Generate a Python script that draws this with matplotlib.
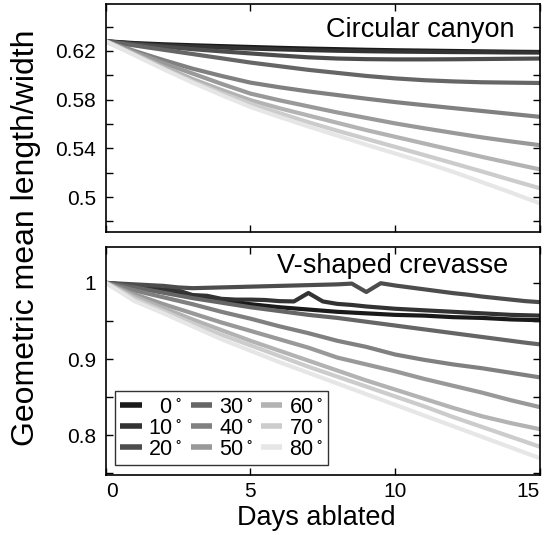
import matplotlib
matplotlib.use("Agg")
import matplotlib.pyplot as plt
import numpy as np

plt.rcParams['font.family'] = ['Liberation Sans', 'DejaVu Sans']
plt.rcParams['mathtext.fontset'] = 'custom'
plt.rcParams['mathtext.rm'] = 'Liberation Sans'

# ---------------- data ----------------
angles = [0, 10, 20, 30, 40, 50, 60, 70, 80]
angle_labels = ['  $\\mathregular{0^\\circ}$', '$\\mathregular{10^\\circ}$', '$\\mathregular{20^\\circ}$',
                '$\\mathregular{30^\\circ}$', '$\\mathregular{40^\\circ}$', '$\\mathregular{50^\\circ}$',
                '$\\mathregular{60^\\circ}$', '$\\mathregular{70^\\circ}$', '$\\mathregular{80^\\circ}$']

days_top = list(range(0, 16))
canyon_0 = [.628, .6265, .6255, .6247, .624, .6233, .6226, .622, .6215, .621, .6206, .6203, .620, .6197, .6194, .6192]
canyon_10 = [.628, .626, .6247, .6237, .6228, .622, .6213, .6207, .6202, .6198, .6195, .6193, .6191, .619, .6188, .6187]
canyon_20 = [.628, .6255, .6235, .6215, .6197, .618, .6163, .6148, .6138, .6133, .6131, .6131, .6132, .6134, .6136, .6138]
canyon_30 = [.628, .6245, .621, .6175, .614, .6105, .6075, .6045, .602, .5995, .5975, .596, .595, .5943, .594, .5937]
canyon_40 = [.628, .620, .6125, .6055, .5995, .594, .5902, .5868, .5838, .5808, .578, .5755, .5731, .5707, .5683, .5659]
canyon_50 = [.628, .619, .610, .6015, .593, .585, .5795, .5745, .5695, .565, .5605, .5565, .5527, .549, .5457, .5426]
canyon_60 = [.628, .6175, .607, .597, .588, .5796, .573, .567, .561, .555, .5495, .544, .5385, .533, .5278, .5227]
canyon_70 = [.628, .617, .6055, .595, .5855, .5768, .569, .5615, .5545, .5478, .5412, .5345, .5278, .521, .514, .5072]
canyon_80 = [.628, .6165, .605, .594, .5838, .574, .5658, .558, .5505, .543, .5358, .5285, .5207, .5122, .5037, .4948]

days_bot = [d / 2 for d in range(0, 31)]
crev_0 = [1.0, .998, .995, .991, .988, .985, .982, .9795, .977, .9745, .972, .970, .968, .9665, .965, .9635,
          .962, .961, .960, .959, .958, .9575, .957, .956, .955, .9545, .954, .953, .952, .9515, .951]
crev_10 = [1.0, .998, .996, .994, .991, .990, .984, .983, .979, .978, .978, .9775, .976, .9756, .9867, .9756,
           .9724, .971, .969, .9675, .966, .965, .964, .963, .962, .961, .960, .959, .958, .9575, .957]
crev_20 = [1.0, .999, .998, .997, .996, .994, .993, .9935, .994, .9945, .995, .9955, .996, .9965, .997, .9975,
           .998, .999, .988, .9995, .9965, .994, .9915, .989, .9865, .9845, .982, .980, .978, .976, .9747]
crev_30 = [1.0, .997, .994, .9905, .987, .9835, .980, .977, .974, .971, .968, .9655, .963, .9605, .958, .956,
           .954, .9515, .949, .9465, .944, .9415, .939, .9365, .934, .9315, .929, .9265, .924, .9215, .9193]
crev_40 = [1.0, .995, .990, .9855, .981, .9765, .972, .967, .962, .9575, .953, .948, .943, .9385, .934, .929,
           .924, .920, .916, .911, .906, .9025, .899, .896, .893, .8905, .888, .885, .882, .879, .876]
crev_50 = [1.0, .9925, .985, .9785, .972, .966, .960, .954, .948, .9425, .937, .9315, .926, .9205, .915, .9085,
           .902, .8975, .893, .8885, .884, .879, .874, .8695, .865, .8605, .856, .851, .846, .8415, .837]
crev_60 = [1.0, .991, .982, .9745, .967, .9595, .952, .945, .938, .931, .924, .9175, .911, .9045, .898, .8915,
           .885, .8785, .872, .866, .860, .854, .848, .842, .836, .8305, .825, .8205, .816, .812, .808]
crev_70 = [1.0, .9895, .979, .971, .963, .955, .947, .9395, .932, .925, .918, .911, .904, .897, .890, .8835,
           .877, .8705, .864, .8575, .851, .8445, .838, .831, .824, .8175, .811, .8045, .798, .7915, .785]
crev_80 = [1.0, .988, .976, .968, .960, .9515, .943, .9345, .926, .9185, .911, .9035, .896, .889, .882, .875,
           .868, .861, .854, .847, .840, .833, .826, .819, .812, .805, .798, .791, .784, .777, .770]

canyon = [canyon_0, canyon_10, canyon_20, canyon_30, canyon_40, canyon_50, canyon_60, canyon_70, canyon_80]
crevasse = [crev_0, crev_10, crev_20, crev_30, crev_40, crev_50, crev_60, crev_70, crev_80]
gray_levels = [0.1, 0.2, 0.3, 0.4, 0.5, 0.6, 0.7, 0.8, 0.9]

top_yticks = [0.5, 0.54, 0.58, 0.62]
top_yminor = [0.48, 0.52, 0.56, 0.60, 0.64]
bot_yticks = [0.8, 0.9, 1.0]
bot_yminor = [0.75, 0.85, 0.95]
xticks = [0, 5, 10, 15]

# ---------------- figure ----------------
W, H = 551, 535
fig = plt.figure(figsize=(W / 100, H / 100), dpi=100)

def rect(l, r, t, b):
    return [l / W, 1 - b / H, (r - l) / W, (b - t) / H]

ax1 = fig.add_axes(rect(105.7, 540, 4, 232))
ax2 = fig.add_axes(rect(105.7, 540, 247, 475))

for i, a in enumerate(angles):
    c = str(gray_levels[i])
    ax1.plot(days_top, canyon[i], color=c, lw=3, solid_capstyle='butt')
    ax2.plot(days_bot, crevasse[i], color=c, lw=3, solid_capstyle='butt', label=angle_labels[i])

ax1.set_ylim(0.4713, 0.6586)
ax2.set_ylim(0.748, 1.047)
for ax in (ax1, ax2):
    ax.set_xlim(0, 15)
    ax.set_xticks(xticks)
    ax.tick_params(direction='in', length=5, width=1, top=True, right=True,
                   labelsize=15, pad=7, colors='black')
    ax.tick_params(which='minor', direction='in', length=5, width=1, left=True, right=True)
    for s in ax.spines.values():
        s.set_linewidth(1.2)
ax1.set_yticks(top_yticks)
ax1.set_yticklabels(['0.5', '0.54', '0.58', '0.62'])
ax1.set_yticks(top_yminor, minor=True)
ax1.tick_params(labelbottom=False)
ax2.set_yticks(bot_yticks)
ax2.set_yticklabels(['0.8', '0.9', '1'])
ax2.set_yticks(bot_yminor, minor=True)
ax2.tick_params(axis='x', pad=5)
xl = ax2.get_xticklabels()
xl[0].set_ha('left')
xl[-1].set_ha('right')

fig.text(515 / W, 1 - 37 / H, 'Circular canyon', ha='right', va='baseline', fontsize=19.5)
fig.text(508 / W, 1 - 273 / H, 'V-shaped crevasse', ha='right', va='baseline', fontsize=19.5)
fig.text(26 / W, 1 - 237.5 / H, 'Geometric mean length/width', rotation=90,
         ha='center', va='center', fontsize=23)
fig.text(316 / W, 1 - 525 / H, 'Days ablated', ha='center', va='baseline', fontsize=19.5)

leg = ax2.legend(ncol=3, loc='lower left', bbox_to_anchor=((115 - 105.7) / 434.3, (475 - 465) / 228),
                 borderaxespad=0, fontsize=15.5, frameon=True, fancybox=False,
                 handlelength=1.0, handletextpad=0.3, columnspacing=0.4,
                 labelspacing=0.0, borderpad=0.25)
leg.get_frame().set_edgecolor('black')
leg.get_frame().set_linewidth(1.0)
for lh in leg.get_lines():
    lh.set_linewidth(4)

fig.savefig('out.png', dpi=100)
